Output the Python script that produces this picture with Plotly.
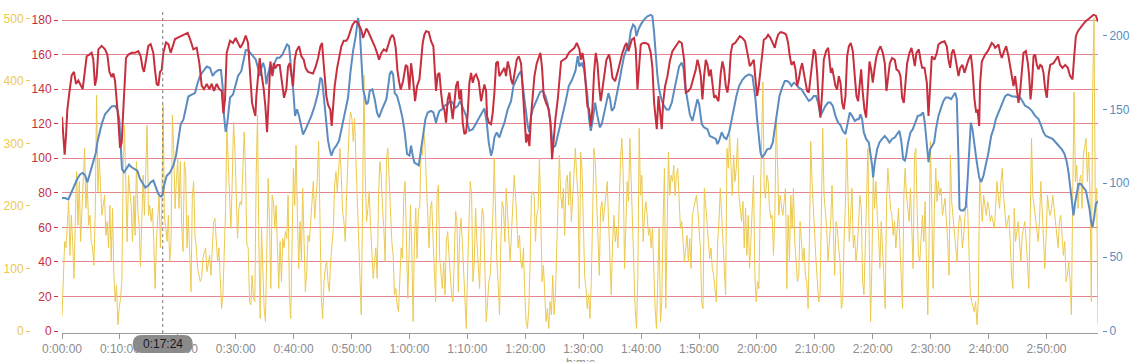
import numpy as np
import plotly.graph_objects as go

# ---------------- data (time in minutes) ----------------
hr_samples = [
    (0,124),(0.23,111),(0.46,102),(0.69,113),(0.92,128),(1.27,138),(1.67,148),(2.07,150),(2.42,143),(2.82,145),
    (3.22,142),(3.57,140),(3.97,151),(4.26,159),(4.72,160),(5.12,161),(5.41,157),(5.70,142),(5.99,147),(6.28,163),
    (6.85,165),(7.43,163),(7.83,160),(8.18,150),(8.58,147),(8.87,149),(9.15,145),(9.44,134),(9.73,122),(10.02,106),
    (10.31,109),(10.48,121),(10.77,144),(11.05,158),(11.46,160),(12.03,161),(12.61,161),(13.18,162),(13.59,159),(13.93,152),
    (14.16,150),(14.51,157),(14.91,165),(15.31,166),(15.77,161),(16.06,151),(16.35,143),(16.64,142),(16.93,150),(17.21,151),
    (17.50,161),(17.96,167),(18.37,166),(18.77,161),(19.11,165),(19.52,169),(20.09,170),(20.67,171),(21.24,171.5),(21.70,172.5),
    (22.11,169),(22.68,163),(23.26,164),(23.72,155),(24.12,142),(24.52,140),(24.99,143),(25.45,140),(25.85,143),(26.25,139),
    (26.71,143),(27.17,140),(27.58,139),(27.86,126),(28.15,134),(28.44,161),(29.02,168),
    (29.53,166.7),(29.99,169.6),(30.40,166.7),(30.80,163.9),(31.26,166.7),(31.72,171),(32.13,166.7),(32.41,153),(32.82,132),(33.10,128),
    (33.39,124.5),(33.56,136),(33.85,149.4),(34.14,158),(34.43,149.4),(34.83,140),(35.12,130),(35.41,115),(35.69,134),(35.98,156),
    (36.33,147.5),(36.56,155),(36.85,152),(37.19,154),(37.59,154),(37.99,141.8),(38.34,135),(38.74,140),(39.03,153),(39.32,155),
    (39.61,148.5),(39.90,141.8),(40.18,157),(40.47,162),(40.93,164.8),(41.34,159),(41.74,157),(42.09,152),(42.49,150),(42.89,149.4),
    (43.35,149),(43.81,153),(44.22,158),(44.62,164.8),(44.91,166.7),(45.08,159),(45.37,145.6),(45.65,136),(45.94,131),(46.34,128),
    (46.57,118.7),(46.81,130),(47.09,141.8),(47.50,152),(47.96,160),(48.24,164.8),(48.65,168),(49.11,168),(49.40,169.6),(49.68,173),
    (50.14,177),(50.55,179),(50.95,179),(51.30,177),(51.70,174),(51.99,169.6),(52.27,172.5),(52.56,175),(52.85,173.5),(53.25,170.6),
    (53.60,168.6),(54.00,164.8),(54.40,161),(54.75,157),(55.15,161),(55.56,163),(56.02,162),(56.30,164.8),(56.71,169.6),(57.05,171.5),
    (57.34,169.6),(57.63,163.9),(57.92,151),(58.20,144.6),(58.49,139.8),(58.89,144.6),(59.36,154),(59.64,153),
    (59.70,149.4),(59.99,139.8),(60.28,155),(60.56,147.5),(60.97,133),(61.31,141.8),(61.72,145.6),(62.00,155),(62.29,166.7),(62.58,171.5),
    (62.87,173.5),(63.33,173),(63.73,167.7),(64.13,164.8),(64.36,151.4),(64.59,138.9),(64.88,148.5),(65.17,149.4),(65.46,138),(65.75,130),
    (66.03,128.3),(66.32,120.6),(66.61,134),(66.90,138),(67.19,130),(67.47,122.6),(67.76,132),(68.05,141.8),(68.34,144.6),(68.63,134),
    (68.91,139.8),(69.20,120.6),(69.49,114),(69.78,114.9),(70.07,126.4),(70.35,143.7),(70.64,149.4),(70.93,143.7),(71.22,147.5),(71.50,148.5),
    (71.96,144.6),(72.37,133),(72.65,138),(72.94,142.7),(73.23,138.9),(73.40,124.5),(73.69,120.6),(74.09,119.7),(74.38,126.4),(74.67,138),
    (74.96,155),(75.25,156),(75.53,147.5),(75.99,150.4),(76.40,152.3),(76.68,147.5),(76.97,156),(77.26,152.3),(77.55,145.6),(77.84,142.7),
    (78.12,149.4),(78.53,157),(78.87,159),(79.27,155),(79.56,139.8),(79.85,124.5),(80.14,109),(80.43,114),(80.71,107),(81.00,124.5),
    (81.29,136),(81.58,147.5),(81.98,155),(82.33,159),(82.61,161),(82.90,152.3),(83.19,136),(83.59,132),(84.05,128.3),(84.34,120.6),
    (84.63,99.5),(84.92,111),(85.20,122.6),(85.61,134),(85.90,143.7),(86.18,156),(86.59,157),(87.05,158),(87.51,161),(87.91,162),
    (88.49,163.9),(88.89,166.7),(89.35,163),
    (89.58,157),(89.87,161),(90.16,155),(90.44,139.8),(90.73,130),(91.02,128.3),(91.31,118.7),(91.59,128.3),(91.88,149.4),(92.17,161),
    (92.46,155),(92.75,141.8),(93.03,133),(93.32,139.8),(93.61,147.5),(94.01,157),(94.47,160),(94.76,155),(95.05,146.6),(95.51,144.6),
    (95.91,149.4),(96.32,155),(96.78,161),(97.18,164.8),(97.47,166.7),(97.81,162),(98.04,164.8),(98.39,168.6),(98.79,169.6),(99.08,163),
    (99.37,139.8),(99.65,155),(99.94,165.8),(100.35,166.7),(100.81,166.7),(101.27,165.8),(101.67,161),(101.96,152.3),(102.25,132),(102.53,122.6),
    (102.71,116.8),(103.00,136),(103.28,128.3),(103.57,116.8),(103.80,132),(104.15,141.8),(104.55,147.5),(104.95,156),(105.41,162),(105.99,164.8),
    (106.56,167.7),(107.02,166.7),(107.43,157),(107.72,138),(108.18,138.9),(108.58,140.8),(108.98,145.6),(109.44,151.4),(109.73,157),(110.02,153.3),
    (110.31,147.5),(110.59,134),(110.88,147.5),(111.17,157),(111.46,154.2),(111.74,147.5),(112.03,151.4),(112.32,141.8),(112.61,135),(112.90,136),
    (113.36,133),(113.76,149.4),(114.05,156),(114.34,151.4),(114.62,141.8),(114.91,138),(115.20,145.6),(115.49,161),(115.77,165.8),(116.24,166.7),
    (116.64,168.6),(117.04,170.6),(117.50,169.6),(117.96,167.7),(118.36,161),(118.77,153.3),(119.11,155),
    (119.46,157),(119.75,145.6),(120.03,136),(120.32,141.8),(120.61,152.3),(120.90,161),(121.19,168.6),(121.59,169.6),(121.93,171.5),(122.34,169.6),
    (122.74,166.7),(123.09,163.9),(123.32,167.7),(123.66,171.5),(124.07,173),(124.64,172.5),(125.05,171.5),(125.39,166.7),(125.68,159),(125.97,154),
    (126.37,156),(126.66,151.4),(126.94,141.8),(127.23,145.6),(127.52,151.4),(127.81,155),(128.10,149.4),(128.38,143.7),(128.67,138.9),(128.96,138),
    (129.25,147.5),(129.53,157),(129.82,163),(130.11,161),(130.40,149.4),(130.68,133),(130.97,123.5),(131.26,138),(131.55,157),(131.95,162),
    (132.30,163.9),(132.53,157),(132.76,149.4),(132.99,152.3),(133.28,145.6),(133.56,141.8),(133.85,139.8),(134.14,147.5),(134.43,143.7),(134.71,132),
    (135.00,128.3),(135.29,136),(135.58,159),(135.87,164.8),(136.21,166.7),(136.56,162),(136.90,147.5),(137.19,136),(137.48,133),(137.77,141.8),
    (138.00,151.4),(138.28,138),(138.57,128.3),(138.86,123.5),(139.15,143.7),(139.44,156),(139.72,151.4),(140.01,143.7),(140.30,151.4),(140.59,158),
    (140.93,162),(141.34,164.8),(141.74,161),(142.08,155),(142.37,138.9),(142.66,147.5),(142.95,155),(143.35,158),(143.81,157),(144.10,151.4),
    (144.50,150.4),(144.79,147.5),(145.08,135),(145.37,132),(145.65,141.8),(145.94,155),(146.35,161),(146.69,163.9),(146.98,159),(147.27,153.3),
    (147.55,161),(147.96,163),(148.25,157),(148.53,152.3),(148.94,152.3),
    (149.34,143.7),(149.63,124.5),(149.91,139.8),(150.20,159),(150.66,157),(151.07,161),(151.35,165.8),(151.81,167),(152.39,167.7),(152.79,164.8),
    (153.08,157),(153.37,152.3),(153.66,161),(153.94,163),(154.23,159),(154.52,153.3),(154.81,147.5),(155.10,152.3),(155.50,154),(155.84,149.4),
    (156.25,154),(156.53,157),(156.94,160),(157.22,151.4),(157.57,134),(157.86,126.4),(158.09,128.3),(158.38,118.7),(158.55,143.7),(158.84,156),
    (159.13,158),(159.41,160),(159.87,162),(160.28,164.8),(160.56,166.7),(160.85,165.8),(161.14,163.9),(161.43,164.8),(161.72,165.8),(162.00,161),
    (162.29,158),(162.69,162),(163.04,164.8),(163.44,159),(163.73,153.3),(164.02,148.5),(164.31,141.8),(164.59,147.5),(164.88,139.8),(165.17,132),
    (165.46,138.9),(165.75,152.3),(166.03,161),(166.44,162),(166.79,155),(167.01,147.5),(167.25,134),(167.48,141.8),(167.77,159),(168.05,160),
    (168.34,154),(168.63,151.4),(168.92,154),(169.20,153.3),(169.49,149.4),(169.78,139.8),(170.07,135),(170.35,147.5),(170.64,154),(171.22,155),
    (171.62,157),(171.97,159),(172.37,154),(172.77,152.3),(173.23,154),(173.69,152.3),(174.09,147.5),(174.50,145.6),(174.79,159),(175.08,170.6),
    (175.42,173.5),(175.82,175.4),(176.22,177.3),(176.68,179),(177.26,180.6),(177.72,182),(178.12,183),(178.53,182.5),(178.70,181),(178.90,179),
]

blue_samples = [
    (0,90),(0.52,90),(1.09,89),(1.38,91.7),(1.84,96.6),(2.25,99.5),(2.65,103),(3.11,106),(3.57,107),(3.97,105.6),
    (4.38,100.7),(4.84,107),(5.41,115),(5.87,121),(6.10,127.6),(6.45,134),(6.85,140),(7.43,146.7),(8.00,149),(8.58,152),
    (9.15,152.4),(9.56,150),(9.90,143),(10.13,123),(10.36,109.7),(10.71,107.4),(11.17,110),(11.57,112.6),(12.03,110.8),(12.61,109.7),
    (13.01,108.5),(13.47,103),(13.93,100),(14.39,97),(14.91,98.4),(15.31,100.7),(15.77,101.8),(16.18,97),(16.64,92.8),(17.04,91),
    (17.33,91.7),(17.62,98.4),(18.08,105),(18.65,107.4),(19.23,112),(19.69,118.7),(20.09,130),(20.50,140),(20.96,143),(21.42,152.4),
    (21.82,158.7),(22.40,160),(22.97,161),(23.37,167),(23.83,172.6),(24.41,176),(24.99,179),(25.56,178),(26.02,172.6),(26.42,175),
    (27.00,176.6),(27.46,176.6),(27.75,164.7),(27.98,145.6),(28.27,134.8),(28.55,141),(29.02,158),(29.53,160),
    (29.99,166),(30.40,172.6),(30.97,176),(31.38,182.7),(31.72,190),(32.13,190),(32.53,188),(32.99,186),(33.45,183.8),(33.85,178),
    (34.14,172.6),(34.43,178),(34.72,181.6),(35.01,178),(35.29,167),(35.58,173.7),(35.98,180.4),(36.44,174.8),(36.73,181.6),(37.13,185),
    (37.59,185),(38.05,187),(38.45,190.6),(38.86,194),(39.21,192.8),(39.44,183.8),(39.79,172.6),(40.01,159),(40.24,145.6),(40.59,150),
    (40.93,145.6),(41.22,140),(41.62,133),(42.08,136.6),(42.49,140),(43.06,145.6),(43.64,152.4),(44.21,161),(44.62,171.5),(44.91,170),
    (45.20,159),(45.54,143.4),(45.94,128.8),(46.23,123),(46.52,118.7),(46.92,123),(47.38,125.4),(47.84,128.8),(48.24,136.6),(48.82,147.9),
    (49.40,158),(49.80,174.8),(50.26,189.4),(50.72,199.6),(51.12,212),(51.41,204),(51.70,183.8),(51.99,163.6),(52.27,159),(52.56,153.5),
    (52.85,154.6),(53.14,162.5),(53.60,163.6),(54.00,156.9),(54.40,147.9),(54.75,144.5),(55.15,149),(55.56,152.4),(56.02,156.9),(56.30,164.7),
    (56.59,173.7),(56.88,176),(57.17,173.7),(57.46,161),(57.86,159),(58.32,152.4),(58.78,144.5),(59.18,134.4),(59.59,119.8),
    (59.99,118.7),(60.28,125.4),(60.56,118.7),(60.85,114),(61.26,113),(61.60,112),(62.00,123),(62.40,134.4),(62.75,143.4),(63.15,147.9),
    (63.73,149),(64.13,147.9),(64.59,141),(64.88,145.6),(65.17,149),(65.63,150),(66.03,152.4),(66.61,153.5),(67.01,155.7),(67.47,154.6),
    (67.93,151),(68.34,152.4),(68.74,155.7),(69.09,152.4),(69.49,149),(69.78,145.6),(70.07,140),(70.35,135.5),(70.93,136.6),(71.39,140),
    (71.79,143.4),(72.37,146.7),(72.94,150.6),(73.35,141),(73.69,127.6),(74.09,118.7),(74.38,123),(74.67,131),(75.07,134.4),(75.53,131),
    (75.99,136.6),(76.40,141),(76.97,150),(77.55,155.7),(77.95,165.8),(78.41,170),(78.87,173.7),(79.27,176),(79.56,168),(79.85,156.9),
    (80.14,147.9),(80.43,138.9),(80.71,134.4),(81.00,145.6),(81.29,150),(81.75,154.6),(82.15,159),(82.56,161.8),(83.02,162.5),(83.48,159),
    (83.88,153.5),(84.28,143.4),(84.63,130),(84.86,124.3),(85.20,125.4),(85.61,132),(86.01,140),(86.47,147.9),(86.93,154.6),(87.51,165.8),
    (88.08,170),(88.66,176),(89.06,186),(89.35,179),
    (89.75,181.6),(90.16,177),(90.44,168),(90.73,159),(91.02,143.4),(91.31,135.5),(91.59,141),(92.06,154.6),(92.46,145.6),(92.86,137.8),
    (93.21,140),(93.61,147.9),(94.01,154.6),(94.36,161),(94.65,156.9),(94.93,149),(95.34,151),(95.74,158),(96.20,168),(96.66,178),
    (97.06,186),(97.47,190.6),(97.93,195),(98.22,203),(98.62,207.4),(98.96,206),(99.19,199.6),(99.54,204),(99.94,207.4),(100.52,210.8),
    (101.09,213),(101.67,214),(101.96,213),(102.25,201.8),(102.53,186),(102.82,172.6),(103.11,163.6),(103.57,155.7),(103.97,152.4),(104.38,150),
    (104.84,150),(105.30,154.6),(105.70,162.5),(106.10,171.5),(106.56,179),(107.02,181.6),(107.31,178),(107.60,165.8),(108.00,154.6),(108.41,146.7),
    (108.87,142.2),(109.33,150),(109.73,156.9),(110.02,153.5),(110.48,140),(110.88,137.8),(111.46,136.6),(111.86,132),(112.32,131),(112.90,130),
    (113.18,126.5),(113.47,128.8),(113.93,134.4),(114.34,131),(114.74,130),(115.20,134.4),(115.66,143.4),(116.06,152.4),(116.46,159),(116.92,165.8),
    (117.50,170),(118.08,172.6),(118.65,173.7),(119.23,172.6),
    (119.46,166),(119.75,156.9),(120.03,143.4),(120.32,130),(120.61,121),(120.90,117.5),(121.36,119.8),(121.76,123),(122.34,123.6),(122.74,127.6),
    (123.09,136.6),(123.49,150),(123.89,159),(124.35,164.7),(124.81,169.2),(125.22,169.2),(125.62,168),(125.97,165.8),(126.37,168),(126.77,167),
    (127.23,164.7),(127.69,163.6),(128.10,161.3),(128.50,159),(128.96,155.7),(129.42,156.9),(129.82,159),(130.22,159),(130.57,154.6),(130.97,145.6),
    (131.38,149),(131.84,152.4),(132.30,154.6),(132.70,154.6),(133.10,152.4),(133.56,145.6),(134.02,141),(134.43,139.3),(134.83,135.5),(135.29,133.3),
    (135.69,141),(136.04,147.9),(136.44,145.6),(136.90,142.2),(137.31,143.4),(137.59,143.4),(137.88,146.7),(138.17,143.4),(138.46,134.4),(138.86,130),
    (139.32,127.6),(139.61,121),(139.90,112),(140.07,104),(140.36,114.2),(140.76,123),(141.16,127.6),(141.62,130),(142.08,132),(142.49,130),
    (142.89,127.6),(143.35,130),(143.81,131),(144.21,133.3),(144.62,135.5),(144.96,127.6),(145.25,116.4),(145.54,115.3),(145.77,118.7),(146.11,127.6),
    (146.52,134.4),(146.92,136.6),(147.38,141),(147.78,145.6),(148.25,146),(148.71,147.9),(148.99,141),
    (149.34,127.6),(149.63,114.2),(149.91,123),(150.20,125.4),(150.60,127.6),(150.92,136.6),(151.35,145.6),(151.81,151.2),(152.21,155.7),(152.61,158),
    (153.08,158),(153.54,156.9),(153.94,159),(154.23,161.3),(154.52,156.9),(154.69,139),(154.81,116.4),(154.98,82.7),(155.27,81.6),(155.67,81.6),
    (156.07,83.8),(156.36,100.7),(156.65,123),(156.94,141),(157.22,136.6),(157.57,125.4),(157.97,114.2),(158.38,104),(158.72,100.7),(159.13,105.2),
    (159.53,112),(159.99,121),(160.45,132),(160.85,136.6),(161.26,143.4),(161.60,146.7),(162.00,150),(162.41,153.5),(162.87,159),(163.33,160.2),
    (163.73,159.6),(164.13,158.7),(164.59,158.7),(165.05,158),(165.46,158),(165.86,155.7),(166.32,152.4),(166.90,151.2),(167.48,149),(168.05,145.6),
    (168.63,143.4),(169.09,138.9),(169.49,134.4),(169.90,132),(170.47,131),(171.05,130),(171.62,127.6),(172.20,125.4),(172.66,123),(173.12,119.8),
    (173.52,114.2),(173.81,107.4),(174.09,96.2),(174.38,85),(174.67,78.2),(174.96,87.2),(175.25,95),(175.54,99.5),(175.94,99.5),(176.40,97.3),
    (176.80,95),(177.09,89.4),(177.43,82.7),(177.72,73.7),(177.95,70.3),(178.24,77),(178.53,86),(178.90,88),
]

# power (W), evenly sampled over the ride
power_a = [23,73,143,133,175,207,121,185,143,84,175,255,169,239,143,196,249,292,196,239,
           169,185,143,133,105,191,377,223,276,223,185,201,217,153,175,133,201,111,196,89,
           47,73,10,36,52,79,260,329,223,143,249,217,201,143,217,153,271,191,169,103,
           175,249,185,276,329,185,201,175,196,143,68,143,175,217,133,196,361,185,164,143,
           185,111,143,345,292,196,239,276,196,271,169,127,271,255,133,185,127,63,217,239,
           153,133,100,89,79,84,116,127,133,95,111,121,89,143,175,180,143,111,133,79,
           36,58,133,196,324,276,233,164,239,334]
power_b = [292,217,148,196,207,201,271,318,260,137,133,47,42,89,52,47,249,345,143,20,
           164,89,36,15,111,244,175,68,217,207,164,201,133,68,143,79,148,133,159,148,
           217,58,20,121,260,201,297,185,100,175,111,228,133,63,95,153,143,175,217,239,
           180,217,244,303,196,52,20,79,100,111,79,63,111,133,164,233,255,223,255,292,
           249,191,175,143,217,281,329,350,340,303,340,276,217,133,89,26,196,409,249,175,
           196,223,169,133,84,111,133,84,217,271,249,196,164,111,276,292,239,185,143,121,
           58,68,42,31,89,133,116,217,239,133]
power_c = [52,127,201,133,15,143,196,116,191,201,292,281,324,292,239,207,133,196,207,148,
           105,47,217,233,116,89,68,111,58,143,159,121,89,58,47,111,191,175,63,153,
           180,143,89,36,4,100,164,239,217,79,111,196,143,100,68,153,196,185,111,15,
           47,79,89,143,185,276,175,111,73,26,143,207,196,143,228,196,148,111,153,207,
           249,217,175,133,153,111,100,133,58,15,4,36,111,217,223,217,143,185,196,276,
           185,79,105,47,15,36,4,47,26,89,26,58,133,196,281,217,196,228,153,239,
           249,201,255,175,217,260,292,249,217,68]
power_d = [286,260,169,89,68,36,58,20,79,217,292,271,207,133,89,196,207,175,196,207,
           239,175,111,58,143,185,143,164,133,212,276,308,249,100,175,239,207,308,239,175,
           89,36,4,89,324,217,249,143,185,207,185,153,164,133,164,95,36,4,89,164,
           15,47,175,260,36,143,286,217,249,239,265,217,249,260,196,164,175,143,111,133,
           153,111,148,100,185,196,207,217,196,153,133,47,36,228,207,175,143,116,133,100,
           89,68,47,143,175,228,185,164,111,58,292,260,314,249,217,281,239,260,308,217,
           196,175,207,133,196,121,185,100,143,196]
power_e = [249,89,47,79,68,196,334,398,228,212,249,239,196,180,185,121,185,340,271,185,
           217,196,185,207,228,68,185,111,217,164,228,143,111,79,89,175,143,111,133,89,
           79,36,143,303,239,185,153,111,68,47,58,185,324,217,185,164,111,143,175,233,
           143,89,175,164,133,111,36,47,143,196,308,196,143,185,228,133,153,111,133,175,
           217,196,79,58,143,239,292,143,15,111,249,196,239,185,153,100,175,133,79,36,
           207,260,228,196,185,153,175,133,164,196,143,89,36,217,260,217,196,175,228,143,
           100,281,292,196,121,111,143,185,143,207]
power_f = [111,26,143,303,196,68,196,260,207,239,217,228,185,196,212,175,143,89,281,207,
           185,153,143,111,164,185,175,133,153,185,217,196,111,58,47,36,31,47,10,47,
           244,207,175,217,196,185,207,196,175,185,175,164,196,239,217,196,239,260,217,185,
           164,175,185,143,89,68,196,143,164,175,143,111,153,164,175,143,100,68,175,308,
           217,196,175,153,143,175,239,196,143,100,153,217,196,185,196,217,196,175,153,133,
           175,185,153,121,143,79,89,111,79,26,217,382,239,265,196,239,249,196,281,292,
           308,239,286,217,47,388,500,196,228,10]

RIDE_MINUTES = 178.9
HOVER_T = 17.4          # 0:17:24
HOVER_LABEL = "0:17:24"

x_tick_vals = [0, 10, 20, 30, 40, 50, 60, 70, 80, 90, 100, 110, 120, 130, 140, 150, 160, 170]
x_tick_text = ["0:00:00", "0:10:00", "0:20:00", "0:30:00", "0:40:00", "0:50:00", "1:00:00",
               "1:10:00", "1:20:00", "1:30:00", "1:40:00", "1:50:00", "2:00:00", "2:10:00",
               "2:20:00", "2:30:00", "2:40:00", "2:50:00"]
hr_ticks = [0, 20, 40, 60, 80, 100, 120, 140, 160, 180]
power_ticks = [0, 100, 200, 300, 400, 500]
blue_ticks = [0, 50, 100, 150, 200]

# ---------------- derived ----------------
hr_t = [p[0] for p in hr_samples]
hr_v = [p[1] for p in hr_samples]
bl_t = [p[0] for p in blue_samples]
bl_v = [p[1] for p in blue_samples]
power = power_a + power_b + power_c + power_d + power_e + power_f
power_t = np.linspace(0, RIDE_MINUTES, len(power))

# ---------------- layout geometry (window pixels) ----------------
W, H = 1132, 362
PL, PR, PT, PB = 62, 1098, 12, 331
AXIS_Y = 333
RED_SCALE = (331 - 20) / 180.0     # px per bpm
YEL_SCALE = (331 - 18.3) / 500.0
BLU_SCALE = (331 - 35.5) / 200.0
plot_h = PB - PT

def px(xp):
    return xp / W

def py(yp):
    return (H - yp) / H

RED = "#c62f3e"
BLUE = "#5b8cc0"
YEL = "#ecc94e"
GRID = "#e3848f"
GREY = "#8c8c8c"
FONT = "Liberation Sans, Arial, sans-serif"

fig = go.Figure()
fig.add_trace(go.Scatter(x=power_t, y=power, yaxis="y", mode="lines",
                         line=dict(color=YEL, width=1), hoverinfo="skip", showlegend=False))
fig.add_trace(go.Scatter(x=bl_t, y=bl_v, yaxis="y2", mode="lines",
                         line=dict(color=BLUE, width=2), hoverinfo="skip", showlegend=False))
fig.add_trace(go.Scatter(x=hr_t, y=hr_v, yaxis="y3", mode="lines",
                         line=dict(color=RED, width=2), hoverinfo="skip", showlegend=False))

ydom = [py(PB), py(PT)]
common_y = dict(domain=ydom, anchor="free", ticks="outside", ticklen=4, showline=False,
                zeroline=False, automargin=False, fixedrange=True)

fig.update_layout(
    width=W, height=H,
    margin=dict(l=0, r=0, t=0, b=0),
    paper_bgcolor="white", plot_bgcolor="white",
    font=dict(family=FONT, size=12, color=GREY),
    showlegend=False,
    hovermode=False,
    xaxis=dict(domain=[px(PL), px(PR)], range=[0, RIDE_MINUTES], anchor="free",
               position=py(AXIS_Y), tickvals=x_tick_vals, ticktext=x_tick_text,
               showgrid=False, zeroline=False, showline=True, linecolor="#9a9a9a", linewidth=1,
               ticks="outside", ticklen=5, tickcolor="#9a9a9a",
               tickfont=dict(family=FONT, size=12, color=GREY), automargin=False),
    yaxis=dict(common_y, range=[0, plot_h / YEL_SCALE], position=px(30), side="left",
               tickvals=power_ticks, tickcolor=YEL, tickfont=dict(family=FONT, size=12, color=YEL),
               showgrid=False),
    yaxis2=dict(common_y, range=[0, plot_h / BLU_SCALE], position=px(1102), side="right",
                overlaying="y", tickvals=blue_ticks, tickcolor=BLUE,
                tickfont=dict(family=FONT, size=12, color=BLUE), showgrid=False),
    yaxis3=dict(common_y, range=[0, plot_h / RED_SCALE], position=px(58), side="left",
                overlaying="y", tickvals=hr_ticks, tickcolor=RED,
                tickfont=dict(family=FONT, size=12, color=RED),
                showgrid=True, gridcolor=GRID, gridwidth=1),
)

# hover cursor line
fig.add_shape(type="line", xref="x", yref="paper", x0=HOVER_T, x1=HOVER_T,
              y0=py(AXIS_Y), y1=py(PT), line=dict(color="#777777", width=1, dash="dot"))

# rounded hover label
cx = PL + HOVER_T / RIDE_MINUTES * (PR - PL)
x0, x1, y0, y1, r = cx - 30, cx + 30, 335, 353, 9
pts = [("M", x0 + r, y0), ("L", x1 - r, y0), ("Q", x1, y0, x1, y0 + r), ("L", x1, y1 - r),
       ("Q", x1, y1, x1 - r, y1), ("L", x0 + r, y1), ("Q", x0, y1, x0, y1 - r),
       ("L", x0, y0 + r), ("Q", x0, y0, x0 + r, y0)]
path = ""
for p in pts:
    cmd, coords = p[0], p[1:]
    pairs = [f"{px(coords[i]):.5f},{py(coords[i + 1]):.5f}" for i in range(0, len(coords), 2)]
    path += cmd + " ".join(pairs) + " "
path += "Z"
fig.add_shape(type="path", xref="paper", yref="paper", path=path,
              fillcolor="#8a8a8a", line=dict(width=0), layer="above")
fig.add_annotation(x=px(cx), y=py((y0 + y1) / 2), xref="paper", yref="paper",
                   text=HOVER_LABEL, showarrow=False, xanchor="center", yanchor="middle",
                   font=dict(family=FONT, size=12, color="#1a1a1a"))

# x axis title (partly below the window edge)
fig.add_annotation(x=px((PL + PR) / 2), y=py(354), xref="paper", yref="paper",
                   text="h:m:s", showarrow=False, xanchor="center", yanchor="top",
                   font=dict(family=FONT, size=12, color=GREY))

fig.write_html("out.html", config={"displayModeBar": False, "staticPlot": True},
               post_script="document.body.style.margin='0';document.body.style.overflow='hidden';")
